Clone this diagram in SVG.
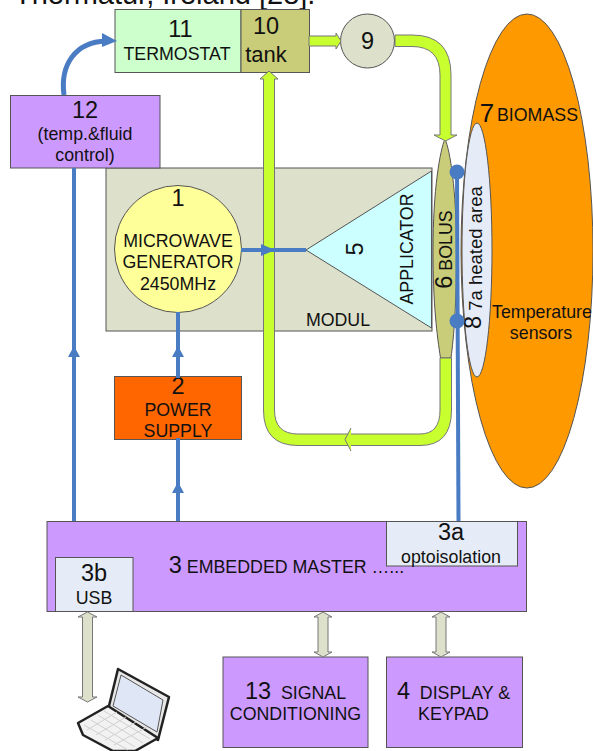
<svg xmlns="http://www.w3.org/2000/svg" width="593" height="751" viewBox="0 0 593 751">
<style>
text{font-family:"Liberation Sans",Arial,sans-serif;fill:#111;text-anchor:middle}
.n{font-size:23.500px}.m{font-size:17.800px}
tspan.n{font-size:23.500px}
.box{stroke:#555;stroke-width:1}
.pur{fill:#cc99ff}.ice{fill:#e6ecf7}
.blue{fill:none;stroke:#4a7cc4;stroke-width:4}
.bh{fill:#4a7cc4}
.pipe{fill:#c8ff2e;stroke:#777;stroke-width:1}
.dbl{fill:#dde0cb;stroke:#777;stroke-width:1}
</style>
<rect width="593" height="751" fill="#fff"/>
<text x="14" y="4" style="font-size:29px;text-anchor:start">Thermatur, Ireland [28].</text>
<g id="n7"><ellipse cx="527" cy="251" rx="66" ry="237" fill="#ff9900" stroke="#555"/><text x="487" y="122" class="n" style="font-size:26px">7</text><text x="537.500" y="121" class="m">BIOMASS</text><text x="542" y="318" class="m">Temperature</text><text x="541" y="339" class="m">sensors</text></g>
<g id="n7a"><ellipse cx="477" cy="250" rx="15" ry="127" fill="#e6ecf7" stroke="#555"/><text transform="translate(482,248.500) rotate(-90)" class="m" style="font-size:18.500px">7a heated area</text></g>
<g id="modul"><rect class="box" x="106" y="168" width="326" height="163" fill="#dde0cb" stroke-width="1.500"/><text x="338" y="326" class="m">MODUL</text></g>
<g id="n5"><polygon class="box" points="306,250 431.500,171 431.500,328" fill="#ccffff"/><text transform="translate(363,249) rotate(-90)" class="n">5</text><text transform="translate(413,249) rotate(-90)" class="m">APPLICATOR</text></g>
<g id="n1"><circle class="box" cx="178" cy="249" r="63.500" fill="#ffff99"/><text x="178" y="206" class="n">1</text><text x="178" y="247" class="m">MICROWAVE</text><text x="178" y="268" class="m">GENERATOR</text><text x="178" y="290" class="m">2450MHz</text></g>
<g id="n11"><rect class="box" x="115" y="9.500" width="126" height="63" fill="#ccffcc"/><text x="180.500" y="37" class="n">11</text><text x="177" y="60" class="m">TERMOSTAT</text></g>
<g id="n10"><rect class="box" x="241" y="9.500" width="68.500" height="63" fill="#c9cc78"/><text x="266" y="34" class="n">10</text><text x="266" y="62" style="font-size:22px">tank</text></g>
<g id="n9"><circle class="box" cx="367.500" cy="41" r="27" fill="#dde0cb"/><text x="367.500" y="49" class="n">9</text></g>
<g id="n12"><rect class="box pur" x="10.500" y="95.500" width="149.500" height="72.500"/><text x="85" y="118" class="n">12</text><text x="85" y="140" class="m">(temp.&amp;fluid</text><text x="85" y="161" class="m">control)</text></g>
<g id="n6"><path class="box" d="M445 139C440 150 433 190 433 250C433 305 437 335 440.500 358H451C454 335 456.500 305 456.500 250C456.500 190 450 150 445 139Z" fill="#c9cc78"/><text transform="translate(451.500,249.500) rotate(-90)" class="m"><tspan class="n">6</tspan> BOLUS</text></g>
<g id="n8"><text transform="translate(480.500,322.500) rotate(-90)" class="n">8</text></g>
<g id="n2"><rect class="box" x="114.500" y="376.500" width="127" height="63" fill="#ff6600"/><text x="178" y="394" class="n">2</text><text x="178" y="416" class="m">POWER</text><text x="178" y="437" class="m">SUPPLY</text></g>
<g id="n3"><rect class="box pur" x="47" y="521.500" width="479.500" height="90"/><text x="286.500" y="573" class="m"><tspan class="n">3</tspan> EMBEDDED MASTER …...</text></g>
<g id="n3a"><rect class="box ice" x="386.500" y="521.500" width="131" height="44.500"/><text x="451" y="540" class="n">3a</text><text x="451" y="563" class="m">optoisolation</text></g>
<g id="n3b"><rect class="box ice" x="55.500" y="557.500" width="77.500" height="54"/><text x="94" y="581" class="n">3b</text><text x="94" y="604" class="m">USB</text></g>
<g id="n13"><rect class="box pur" x="223" y="657" width="145" height="90.500"/><text x="295.500" y="699" class="m"><tspan class="n">13</tspan>&#160; SIGNAL</text><text x="295.500" y="720" class="m">CONDITIONING</text></g>
<g id="n4"><rect class="box pur" x="386.500" y="657" width="136" height="90.500"/><text x="453.500" y="699" class="m"><tspan class="n">4</tspan>&#160; DISPLAY &amp;</text><text x="453.500" y="720" class="m">KEYPAD</text></g>
<g id="laptop">
<path d="M118 669L169 697L158 740L108 710Z" fill="#e8e8e8" stroke="#222" stroke-width="2.500" stroke-linejoin="round"/>
<path d="M121 675L163 700L157 732L113 706Z" fill="#dfe6f5" stroke="#555" stroke-width="1"/>
<path d="M108 706L78 723L83 735L113 751H135L158 738Z" fill="#f2f2f2" stroke="#222" stroke-width="2.500" stroke-linejoin="round"/>
<path d="M84 725L128 750M91 720L135 747M98 715L143 743M104 711L150 739M114 745L147 727M105 740L136 722M96 735L126 717M87 730L117 712" fill="none" stroke="#d0d0d0" stroke-width="1"/>
</g>
<g id="connectors">
<path class="pipe" d="M269 71L278 79H274.500V410Q274.500 434 298 434H420Q440 434 440 410V358H451.500V410Q451.500 445.500 420 445.500H298Q263.500 445.500 263.500 410V79H260Z"/>
<path d="M351 428L345 439.500L351 451" fill="#c8ff2e" stroke="#777" stroke-width="1"/>
<path class="pipe" d="M309 36H336V33L341 41L336 49V46H309Z"/>
<path class="pipe" d="M395 35H412Q451 35 451 75V135H457L445.500 141L434 135H440V75Q440 46.500 412 46.500H395Z"/>
<path class="blue" style="stroke-width:5" d="M64 95C60 65 75 42 106 41"/>
<polygon class="bh" points="117,41 102,33 102,47"/>
<path class="blue" d="M74 168V521M178 312V378M178 438V521M241 250H306"/>
<polygon class="bh" points="74,346 68,357 80,357"/>
<polygon class="bh" points="178,346 172,357 184,357"/>
<polygon class="bh" points="178,482 172,493 184,493"/>
<polygon class="bh" points="275,250 261,244 261,256"/>
<path class="blue" d="M457 172L458.500 521"/>
<circle class="bh" cx="457" cy="172" r="7.500"/>
<circle class="bh" cx="457" cy="321" r="7.500"/>
<path class="dbl" d="M87.500 612L97 617H92.500V697H97L87.500 702L78 697H82.500V617H78Z"/>
<path class="dbl" d="M323 612L332 617H328V652H332L323 657L314 652H318V617H314Z"/>
<path class="dbl" d="M441 612L450 617H446V652H450L441 657L432 652H436V617H432Z"/>
</g>
</svg>
